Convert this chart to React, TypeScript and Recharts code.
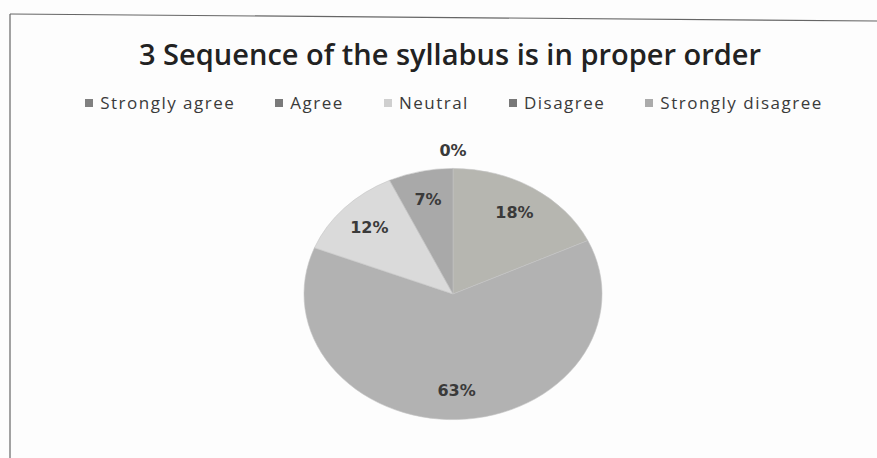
import React from "react";
import { PieChart, Pie, Cell, Legend } from "recharts";

const categories = ["Strongly agree", "Agree", "Neutral", "Disagree", "Strongly disagree"];
const shares = [18, 63, 12, 7, 0];

const sliceColors = ["#b6b6b0", "#b2b2b2", "#dadada", "#a9a9a9", "#bdbdbd"];
const legendColors = ["#808080", "#7a7a7a", "#cfcfcf", "#787878", "#ababab"];

const data = categories.map((name, i) => ({ name, value: shares[i] }));

const RAD = Math.PI / 180;
const SQUASH = 0.843;

function EllipseSector(props: any) {
  const { cx, cy, outerRadius, startAngle, endAngle, fill } = props;
  if (Math.abs(startAngle - endAngle) < 0.01) return null;
  const rx = outerRadius;
  const ry = outerRadius * SQUASH;
  const x1 = cx + rx * Math.cos(startAngle * RAD);
  const y1 = cy - ry * Math.sin(startAngle * RAD);
  const x2 = cx + rx * Math.cos(endAngle * RAD);
  const y2 = cy - ry * Math.sin(endAngle * RAD);
  const large = Math.abs(startAngle - endAngle) > 180 ? 1 : 0;
  const sweep = startAngle > endAngle ? 1 : 0;
  const d = `M${cx},${cy} L${x1},${y1} A${rx},${ry} 0 ${large} ${sweep} ${x2},${y2} Z`;
  return <path d={d} fill={fill} stroke="#c4c4c4" strokeWidth={0.6} />;
}

function renderLabel(props: any) {
  const { cx, cy, midAngle, outerRadius, value } = props;
  const f = value === 0 ? 1.14 : 0.77;
  const x = cx + outerRadius * f * Math.cos(midAngle * RAD);
  const y = cy - outerRadius * SQUASH * f * Math.sin(midAngle * RAD);
  return (
    <text
      x={x}
      y={y}
      textAnchor="middle"
      dominantBaseline="central"
      fill="#3a3a3a"
      fontFamily="DejaVu Sans"
      fontWeight="bold"
      fontSize={16}
    >
      {`${value}%`}
    </text>
  );
}

function renderLegend(props: any) {
  const payload = [...(props.payload || [])].sort(
    (a: any, b: any) => categories.indexOf(a.value) - categories.indexOf(b.value)
  );
  return (
    <div
      style={{
        display: "flex",
        justifyContent: "center",
        gap: 40,
        fontFamily: "Open Sans",
        fontSize: 17,
        color: "#3a3a3a",
        letterSpacing: 1.5,
      }}
    >
      {payload.map((entry: any) => (
        <div key={entry.value} style={{ display: "flex", alignItems: "center" }}>
          <span
            style={{
              display: "inline-block",
              width: 8,
              height: 8,
              background: legendColors[categories.indexOf(entry.value)],
              marginRight: 7,
            }}
          />
          <span>{entry.value}</span>
        </div>
      ))}
    </div>
  );
}

export default function App() {
  return (
    <div style={{ position: "absolute", left: 0, top: 0, width: 877, height: 458, background: "#fdfdfd", overflow: "hidden" }}>
      <svg width={877} height={458} style={{ position: "absolute", left: 0, top: 0 }}>
        <line x1={10} y1={14} x2={877} y2={21} stroke="#666" strokeWidth={1.2} />
        <line x1={10} y1={14} x2={10} y2={458} stroke="#666" strokeWidth={1.2} />
      </svg>
      <div
        style={{
          position: "absolute",
          left: 0,
          top: 34,
          width: 900,
          textAlign: "center",
          fontFamily: "Open Sans",
          fontWeight: 600,
          fontSize: 29,
          lineHeight: "40px",
          color: "#222",
        }}
      >
        3 Sequence of the syllabus is in proper order
      </div>
      <div style={{ position: "absolute", left: 0, top: 0 }}>
        <PieChart width={877} height={458} margin={{ top: 0, right: 0, bottom: 0, left: 0 }}>
          <Legend
            verticalAlign="top"
            content={renderLegend}
            wrapperStyle={{ top: 91, left: 0, width: 908 }}
          />
          <Pie
            data={data}
            dataKey="value"
            nameKey="name"
            cx={453}
            cy={271}
            outerRadius={149}
            startAngle={90}
            endAngle={-270}
            shape={EllipseSector}
            label={renderLabel}
            labelLine={false}
            isAnimationActive={false}
          >
            {data.map((d, i) => (
              <Cell key={d.name} fill={sliceColors[i]} />
            ))}
          </Pie>
        </PieChart>
      </div>
    </div>
  );
}
